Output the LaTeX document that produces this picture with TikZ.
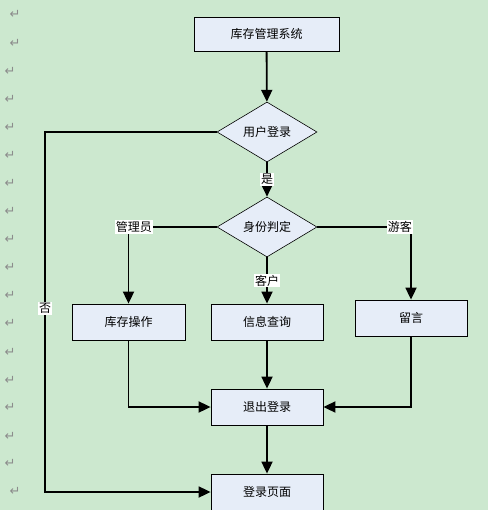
\documentclass[tikz,border=0pt]{standalone}
\usepackage{fontspec}
\setmainfont{Noto Sans CJK SC}
\newfontfamily\markfont{DejaVu Sans}
\usetikzlibrary{arrows.meta}
\usetikzlibrary{shapes.geometric}
\definecolor{eyegreen}{RGB}{204,232,207}
\definecolor{boxblue}{RGB}{230,237,248}
\begin{document}
\begin{tikzpicture}[x=1pt, y=-1pt,
  box/.style={draw, fill=boxblue, line width=.8pt, minimum width=112pt, minimum height=36pt, inner sep=0pt, font=\fontsize{12}{14}\selectfont},
  decide/.style={draw, fill=boxblue, line width=.6pt, diamond, shape aspect=1.67, minimum width=100pt, minimum height=60pt, inner sep=0pt, font=\fontsize{12}{14}\selectfont},
  lbl/.style={fill=white, inner sep=1pt, font=\fontsize{12}{14}\selectfont},
  arr/.style={line width=1.8pt, -{Triangle[length=12pt, width=11pt]}}]
\fill[eyegreen] (0,0) rectangle (488,510);
\useasboundingbox (0,0) rectangle (488,510);
% paragraph marks
\foreach \x/\y in {15/14, 15/43, 10/71, 10/99, 10/127, 10/155, 10/183, 10/211, 10/239, 10/267, 10/295, 10/323, 10/352, 10/380, 10/407, 10/436, 10/463, 15/491} {
 \node[black!45, font=\markfont\fontsize{13}{13}\selectfont, inner sep=0] at (\x,\y) {↵};
}
\node[box, minimum width=145pt, minimum height=34pt] (sys) at (266.5,34) {库存管理系统};
\node[decide] (login) at (267,132) {用户登录};
\node[decide] (role) at (267,227) {身份判定};
\node[box, minimum width=113pt] (stock) at (128.5,322) {库存操作};
\node[box] (query) at (267,322) {信息查询};
\node[box] (msg) at (411,318) {留言};
\node[box] (logout) at (267,407) {退出登录};
\node[box] (page) at (267,492) {登录页面};
\coordinate (back) at (45,132);
\draw[arr] (sys) -- (login);
\draw[arr] (login) -- node[lbl] {是} (role);
\draw[arr] (role.west) -| node[lbl, pos=.47] {管理员} (stock);
\draw[arr] (role.east) -| node[lbl, pos=.44] {游客} (msg);
\draw[arr] (role) -- node[lbl] {客户} (query);
\draw[arr] (stock) |- (logout);
\draw[arr] (query) -- (logout);
\draw[arr] (msg) |- (logout);
\draw[arr] (logout) -- (page);
\draw[arr] (login.west) -- (back) |- node[lbl, pos=.245] {否} (page);
\end{tikzpicture}
\end{document}
